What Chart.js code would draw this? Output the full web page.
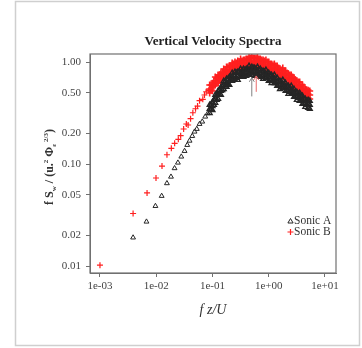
<!DOCTYPE html>
<html>
<head>
<meta charset="utf-8">
<script src="https://cdn.jsdelivr.net/npm/chart.js@4/dist/chart.umd.min.js"></script>
<style>
  html, body { margin: 0; padding: 0; background: #fff; }
  canvas { display: block; }
</style>
</head>
<body>
<canvas id="spectra" width="362" height="348"></canvas>
<script>
// ── Data ──────────────────────────────────────────────────────

// low-frequency, log-averaged points
const sparseAFreq = [0.00388, 0.00671, 0.00968, 0.0125, 0.0155, 0.0183, 0.0212, 0.0243, 0.0279, 0.0319,
  0.0356, 0.0392, 0.0437, 0.0480, 0.0527, 0.0589, 0.0658, 0.0743, 0.0826];
const sparseAVal = [0.0190, 0.0272, 0.0387, 0.0486, 0.0647, 0.0750, 0.0908, 0.1030, 0.118, 0.134,
  0.1535, 0.169, 0.188, 0.2074, 0.2205, 0.2466, 0.260, 0.291, 0.314];

const sparseBFreq = [0.001, 0.00388, 0.00687, 0.00991, 0.01267, 0.01552, 0.01857, 0.02125, 0.0247, 0.0272,
  0.0307, 0.0343, 0.0369, 0.0408, 0.0448, 0.0500, 0.0543, 0.0589, 0.0673, 0.0721, 0.0773, 0.0859];
const sparseBVal = [0.0102, 0.0327, 0.0520, 0.0729, 0.0955, 0.1233, 0.1425, 0.1596, 0.1747, 0.1894,
  0.2205, 0.2466, 0.2412, 0.278, 0.318, 0.348, 0.370, 0.418, 0.431, 0.475, 0.511, 0.528];

// high-frequency dense band: upper / middle / lower edge of the scatter
const bandFreq = [0.0891, 0.1, 0.1122, 0.1259, 0.1413, 0.1585, 0.1778, 0.1995, 0.2239, 0.2512,
  0.2818, 0.3162, 0.3548, 0.3981, 0.4467, 0.5012, 0.5623, 0.631, 0.7079, 0.7943,
  0.8913, 1.0, 1.122, 1.259, 1.413, 1.585, 1.778, 1.995, 2.239, 2.512,
  2.818, 3.162, 3.548, 3.981, 4.467, 5.012, 5.37];

const bandATop = [0.379, 0.406, 0.475, 0.520, 0.569, 0.651, 0.681, 0.713, 0.780, 0.798,
  0.798, 0.854, 0.854, 0.854, 0.914, 0.893, 0.873, 0.893, 0.854, 0.816,
  0.835, 0.780, 0.746, 0.746, 0.697, 0.651, 0.666, 0.622, 0.582, 0.582,
  0.543, 0.508, 0.497, 0.464, 0.434, 0.424, 0.415];
const bandAMid = [0.346, 0.370, 0.434, 0.475, 0.520, 0.595, 0.622, 0.651, 0.713, 0.729,
  0.729, 0.780, 0.780, 0.798, 0.835, 0.816, 0.798, 0.816, 0.780, 0.746,
  0.763, 0.713, 0.681, 0.681, 0.637, 0.595, 0.608, 0.569, 0.531, 0.531,
  0.497, 0.464, 0.454, 0.424, 0.397, 0.388, 0.379];
const bandALow = [0.316, 0.338, 0.397, 0.434, 0.475, 0.543, 0.569, 0.595, 0.651, 0.666,
  0.666, 0.713, 0.713, 0.729, 0.763, 0.746, 0.729, 0.746, 0.713, 0.681,
  0.697, 0.651, 0.622, 0.622, 0.582, 0.543, 0.556, 0.520, 0.486, 0.486,
  0.454, 0.424, 0.415, 0.388, 0.362, 0.354, 0.346];

const bandBTop = [0.595, 0.622, 0.713, 0.746, 0.780, 0.854, 0.893, 0.914, 0.978, 1.0,
  1.023, 1.070, 1.046, 1.070, 1.119, 1.145, 1.094, 1.119, 1.070, 1.046,
  1.046, 1.0, 0.956, 0.956, 0.914, 0.854, 0.873, 0.816, 0.763, 0.746,
  0.697, 0.651, 0.637, 0.595, 0.543, 0.531, 0.520];
const bandBMid = [0.543, 0.569, 0.651, 0.681, 0.713, 0.780, 0.816, 0.835, 0.893, 0.914,
  0.935, 0.978, 0.978, 0.978, 1.023, 1.023, 1.0, 1.023, 0.978, 0.956,
  0.935, 0.914, 0.873, 0.854, 0.835, 0.780, 0.780, 0.746, 0.697, 0.681,
  0.637, 0.595, 0.582, 0.543, 0.497, 0.486, 0.475];
const bandBLow = [0.497, 0.520, 0.595, 0.622, 0.651, 0.713, 0.746, 0.763, 0.816, 0.835,
  0.854, 0.893, 0.893, 0.893, 0.935, 0.914, 0.914, 0.935, 0.893, 0.873,
  0.854, 0.835, 0.798, 0.780, 0.763, 0.713, 0.713, 0.681, 0.637, 0.622,
  0.582, 0.543, 0.531, 0.497, 0.454, 0.444, 0.434];

// in-between frequencies of the dense band (two scatter points each)
const band2Freq = [0.0944, 0.1059, 0.1189, 0.1334, 0.1496, 0.1679, 0.1884, 0.2113, 0.2371, 0.2661,
  0.2985, 0.3350, 0.3758, 0.4217, 0.4732, 0.5309, 0.5957, 0.6683, 0.7499, 0.8414,
  0.9441, 1.059, 1.189, 1.334, 1.496, 1.679, 1.884, 2.113, 2.371, 2.661,
  2.985, 3.350, 3.758, 4.217, 4.732];
const bandA2Up = [0.379, 0.424, 0.475, 0.531, 0.582, 0.637, 0.681, 0.713, 0.746, 0.780,
  0.798, 0.816, 0.835, 0.854, 0.854, 0.873, 0.854, 0.835, 0.816, 0.798,
  0.763, 0.746, 0.713, 0.681, 0.651, 0.637, 0.608, 0.582, 0.556, 0.531,
  0.508, 0.486, 0.464, 0.434, 0.415];
const bandA2Dn = [0.346, 0.379, 0.424, 0.475, 0.531, 0.569, 0.608, 0.651, 0.681, 0.697,
  0.713, 0.729, 0.746, 0.763, 0.780, 0.780, 0.763, 0.746, 0.729, 0.713,
  0.697, 0.666, 0.651, 0.622, 0.595, 0.569, 0.556, 0.531, 0.508, 0.486,
  0.464, 0.444, 0.415, 0.397, 0.379];
const bandB2Up = [0.595, 0.651, 0.697, 0.746, 0.798, 0.835, 0.893, 0.914, 0.956, 0.978,
  1.0, 1.023, 1.046, 1.070, 1.094, 1.094, 1.094, 1.070, 1.046, 1.023,
  1.0, 0.956, 0.935, 0.914, 0.873, 0.835, 0.816, 0.780, 0.746, 0.713,
  0.666, 0.637, 0.595, 0.569, 0.531];
const bandB2Dn = [0.531, 0.582, 0.622, 0.666, 0.713, 0.746, 0.798, 0.816, 0.854, 0.873,
  0.893, 0.914, 0.935, 0.956, 0.978, 0.978, 0.978, 0.956, 0.935, 0.914,
  0.893, 0.854, 0.835, 0.816, 0.780, 0.746, 0.729, 0.697, 0.666, 0.637,
  0.595, 0.569, 0.531, 0.508, 0.475];

// peak markers (arrows): frequency, tail value, head value
const peakFreq = [0.5, 0.6];
const peakTail = [0.46, 0.51];
const peakHead = [0.70, 0.73];

const xTickValues = [0.001, 0.01, 0.1, 1, 10];
const xTickLabels = ['1e-03', '1e-02', '1e-01', '1e+00', '1e+01'];
const yTickValues = [0.01, 0.02, 0.05, 0.1, 0.2, 0.5, 1];
const yTickLabels = ['0.01', '0.02', '0.05', '0.10', '0.20', '0.50', '1.00'];

const seriesNames = ['Sonic A', 'Sonic B'];
const colorA = '#262626';
const colorB = '#ff1f1f';

// ── Build point lists ─────────────────────────────────────────

function buildPoints(freq, vals, bf, top, mid, low, bf2, up2, dn2) {
  var pts = [];
  for (var i = 0; i < freq.length; i++) pts.push({ x: freq[i], y: vals[i] });
  for (var j = 0; j < bf.length; j++) {
    pts.push({ x: bf[j], y: top[j] });
    pts.push({ x: bf[j], y: mid[j] });
    pts.push({ x: bf[j], y: low[j] });
  }
  for (var k = 0; k < bf2.length; k++) {
    pts.push({ x: bf2[k], y: up2[k] });
    pts.push({ x: bf2[k], y: dn2[k] });
  }
  return pts;
}

const pointsA = buildPoints(sparseAFreq, sparseAVal, bandFreq, bandATop, bandAMid, bandALow,
  band2Freq, bandA2Up, bandA2Dn);
const pointsB = buildPoints(sparseBFreq, sparseBVal, bandFreq, bandBTop, bandBMid, bandBLow,
  band2Freq, bandB2Up, bandB2Dn);

// ── Decorations: frame, title, axis titles, legend, arrows ────

const SERIF = '"Liberation Serif", "DejaVu Serif", serif';

function drawTriangle(ctx, x, y, r, color) {
  ctx.save();
  ctx.strokeStyle = color;
  ctx.lineWidth = 1;
  ctx.beginPath();
  ctx.moveTo(x, y - r);
  ctx.lineTo(x + r * 0.866, y + r * 0.5);
  ctx.lineTo(x - r * 0.866, y + r * 0.5);
  ctx.closePath();
  ctx.stroke();
  ctx.restore();
}

function drawCross(ctx, x, y, r, color) {
  ctx.save();
  ctx.strokeStyle = color;
  ctx.lineWidth = 1.2;
  ctx.beginPath();
  ctx.moveTo(x - r, y); ctx.lineTo(x + r, y);
  ctx.moveTo(x, y - r); ctx.lineTo(x, y + r);
  ctx.stroke();
  ctx.restore();
}

const decorPlugin = {
  id: 'decor',
  beforeDraw: function (chart) {
    var ctx = chart.ctx;
    ctx.save();
    ctx.fillStyle = '#fff';
    ctx.fillRect(0, 0, chart.width, chart.height);
    ctx.strokeStyle = '#cfcfcf';
    ctx.lineWidth = 1.5;
    ctx.strokeRect(15.5, 1.5, 344, 344);
    ctx.restore();
  },
  afterDraw: function (chart) {
    var ctx = chart.ctx;
    var a = chart.chartArea;
    var xs = chart.scales.x, ys = chart.scales.y;

    // plot frame
    ctx.save();
    ctx.strokeStyle = '#707070';
    ctx.lineWidth = 1.2;
    ctx.strokeRect(a.left, a.top, a.right - a.left, a.bottom - a.top);
    ctx.restore();

    // peak arrows
    var arrowColors = ['#808080', '#e86a6a'];
    for (var i = 0; i < peakFreq.length; i++) {
      var px = xs.getPixelForValue(peakFreq[i]);
      var y0 = ys.getPixelForValue(peakTail[i]);
      var y1 = ys.getPixelForValue(peakHead[i]);
      ctx.save();
      ctx.strokeStyle = arrowColors[i];
      ctx.lineWidth = 1;
      ctx.beginPath();
      ctx.moveTo(px, y0); ctx.lineTo(px, y1);
      ctx.moveTo(px - 2.5, y1 + 4); ctx.lineTo(px, y1); ctx.lineTo(px + 2.5, y1 + 4);
      ctx.stroke();
      ctx.restore();
    }

    ctx.save();
    // title
    ctx.fillStyle = '#222';
    ctx.font = 'bold 13px ' + SERIF;
    ctx.textAlign = 'center';
    ctx.textBaseline = 'alphabetic';
    ctx.fillText('Vertical Velocity Spectra', (a.left + a.right) / 2, 45);

    // x title
    ctx.font = 'italic 14px ' + SERIF;
    ctx.fillStyle = '#333';
    ctx.fillText('f z/U', (a.left + a.right) / 2, 314);

    // y title, rotated, with sub/superscripts
    var parts = [
      { t: 'f S', size: 12, dy: 0 },
      { t: 'w', size: 7, dy: 3 },
      { t: ' / (u.', size: 12, dy: 0 },
      { t: '2', size: 7, dy: -5 },
      { t: ' \u03A6', size: 12, dy: 0 },
      { t: '\u03B5', size: 7, dy: 3 },
      { t: ' 2/3', size: 7, dy: -5 },
      { t: ')', size: 12, dy: 0 }
    ];
    var total = 0;
    parts.forEach(function (p) {
      ctx.font = 'bold ' + p.size + 'px ' + SERIF;
      p.w = ctx.measureText(p.t).width;
      total += p.w;
    });
    ctx.translate(53, 167);
    ctx.rotate(-Math.PI / 2);
    ctx.textAlign = 'left';
    var cx = -total / 2;
    parts.forEach(function (p) {
      ctx.font = 'bold ' + p.size + 'px ' + SERIF;
      ctx.fillText(p.t, cx, p.dy);
      cx += p.w;
    });
    ctx.restore();

    // legend (inside plot, bottom right)
    ctx.save();
    ctx.font = '11.5px ' + SERIF;
    ctx.fillStyle = '#333';
    ctx.textAlign = 'left';
    ctx.textBaseline = 'middle';
    drawTriangle(ctx, 290.5, 221.5, 3, colorA);
    ctx.fillText(seriesNames[0], 294, 221);
    drawCross(ctx, 290.5, 232, 3, colorB);
    ctx.fillText(seriesNames[1], 294, 232);
    ctx.restore();
  }
};

// ── Chart ─────────────────────────────────────────────────────

const nSparseA = sparseAFreq.length;
const nSparseB = sparseBFreq.length;

new Chart(document.getElementById('spectra'), {
  type: 'scatter',
  data: {
    datasets: [
      {
        label: seriesNames[0],
        data: pointsA,
        pointStyle: 'triangle',
        pointRadius: 2.8,
        borderColor: colorA,
        backgroundColor: 'rgba(0,0,0,0)',
        pointBorderWidth: function (c) { return c.dataIndex < nSparseA ? 1 : 1.4; },
      },
      {
        label: seriesNames[1],
        data: pointsB,
        pointStyle: 'cross',
        pointRadius: function (c) { return c.dataIndex < nSparseB ? 3 : 3.4; },
        borderColor: colorB,
        backgroundColor: colorB,
        pointBorderWidth: function (c) { return c.dataIndex < nSparseB ? 1.2 : 1.6; },
      },
    ],
  },
  options: {
    responsive: false,
    animation: false,
    layout: { padding: { left: 0, right: 26, top: 54, bottom: 0 } },
    plugins: { legend: { display: false }, tooltip: { enabled: false }, title: { display: false } },
    scales: {
      x: {
        type: 'logarithmic',
        min: 0.000665,
        max: 15.7,
        afterBuildTicks: function (scale) {
          scale.ticks = xTickValues.map(function (v) { return { value: v }; });
        },
        afterFit: function (scale) { scale.height = 75; },
        ticks: {
          autoSkip: false,
          maxRotation: 0,
          padding: 3,
          color: '#444',
          font: { family: SERIF, size: 11 },
          callback: function (v) {
            var k = xTickValues.indexOf(v);
            return k >= 0 ? xTickLabels[k] : '';
          },
        },
        grid: { drawOnChartArea: false, drawTicks: true, tickLength: 4, color: '#707070' },
        border: { display: true, color: '#707070' },
      },
      y: {
        type: 'logarithmic',
        min: 0.00854,
        max: 1.198,
        afterBuildTicks: function (scale) {
          scale.ticks = yTickValues.map(function (v) { return { value: v }; });
        },
        afterFit: function (scale) { scale.width = 90; },
        ticks: {
          autoSkip: false,
          padding: 5,
          color: '#444',
          font: { family: SERIF, size: 11 },
          callback: function (v) {
            var k = yTickValues.indexOf(v);
            return k >= 0 ? yTickLabels[k] : '';
          },
        },
        grid: { drawOnChartArea: false, drawTicks: true, tickLength: 4, color: '#707070' },
        border: { display: true, color: '#707070' },
      },
    },
  },
  plugins: [decorPlugin],
});
</script>
</body>
</html>
